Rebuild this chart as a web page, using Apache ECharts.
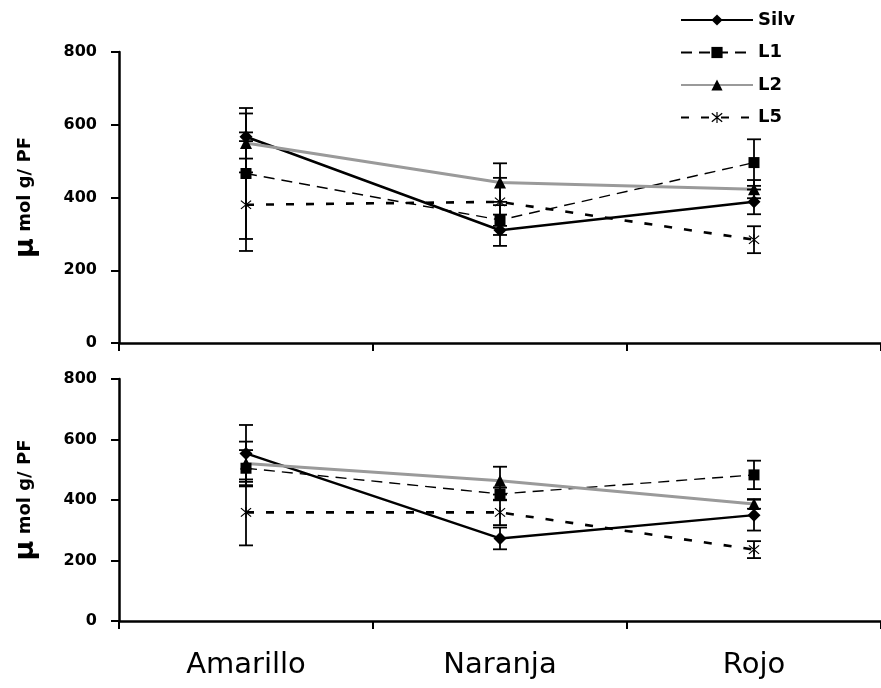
<!DOCTYPE html>
<html>
<head>
<meta charset="utf-8">
<script src="https://cdn.jsdelivr.net/npm/echarts@6/dist/echarts.min.js"></script>
<style>html,body{margin:0;padding:0;background:#fff}#c{width:881px;height:688px}</style>
</head>
<body>
<div id="c"></div>
<script>
// ---- data ----
var categories = ['Amarillo', 'Naranja', 'Rojo'];
var yTicks = [0, 200, 400, 600, 800];
var seriesNames = ['Silv', 'L1', 'L2', 'L5'];

// top panel: means and error (±)
var silvTop = [567, 310, 388];
var silvTopErr = [12, 43, 34];
var l1Top = [466, 338, 496];
var l1TopErr = [180, 41, 64];
var l2Top = [550, 441, 423];
var l2TopErr = [81, 53, 25];
var l5Top = [380, 388, 284];
var l5TopErr = [127, 66, 37];

// bottom panel
var silvBot = [554, 273, 350];
var silvBotErr = [94, 36, 51];
var l1Bot = [505, 420, 483];
var l1BotErr = [60, 21, 47];
var l2Bot = [521, 464, 387];
var l2BotErr = [72, 46, 16];
var l5Bot = [359, 359, 236];
var l5BotErr = [109, 42, 28];

// ---- styles ----
var FONT = 'DejaVu Sans';
var starPath = 'path://M9,0 L11,0 L11,20 L9,20 Z M0.7,3.1 L2.1,1.7 L19.3,16.9 L17.9,18.3 Z M17.9,1.7 L19.3,3.1 L2.1,18.3 L0.7,16.9 Z';
var styles = {
  'Silv': {color: '#000', lineStyle: {color: '#000', width: 2.5, type: 'solid'}, symbol: 'diamond', symbolSize: [13, 13]},
  'L1': {color: '#000', lineStyle: {color: '#000', width: 1.4, type: [11, 7]}, symbol: 'rect', symbolSize: 11},
  'L2': {color: '#000', lineStyle: {color: '#9a9a9a', width: 3, type: 'solid'}, symbol: 'triangle', symbolSize: 12},
  'L5': {color: '#000', lineStyle: {color: '#000', width: 2.6, type: [8, 12]}, symbol: starPath, symbolSize: 11}
};

var topData = {'Silv': [silvTop, silvTopErr], 'L1': [l1Top, l1TopErr], 'L2': [l2Top, l2TopErr], 'L5': [l5Top, l5TopErr]};
var botData = {'Silv': [silvBot, silvBotErr], 'L1': [l1Bot, l1BotErr], 'L2': [l2Bot, l2BotErr], 'L5': [l5Bot, l5BotErr]};

function errItem(params, api) {
  var c0 = api.coord([api.value(0), api.value(1)]);
  var c1 = api.coord([api.value(0), api.value(2)]);
  var x = c0[0], w = 7;
  var st = {stroke: '#000', lineWidth: 1.8};
  return {type: 'group', children: [
    {type: 'line', shape: {x1: x, y1: c0[1], x2: x, y2: c1[1]}, style: st},
    {type: 'line', shape: {x1: x - w, y1: c0[1], x2: x + w, y2: c0[1]}, style: st},
    {type: 'line', shape: {x1: x - w, y1: c1[1], x2: x + w, y2: c1[1]}, style: st}
  ]};
}

var series = [];
[[topData, 0], [botData, 1]].forEach(function (pair) {
  var d = pair[0], gi = pair[1];
  seriesNames.forEach(function (n) {
    var s = styles[n];
    series.push({
      name: n, type: 'line', xAxisIndex: gi, yAxisIndex: gi,
      data: d[n][0], symbol: s.symbol, symbolSize: s.symbolSize,
      itemStyle: {color: s.color}, lineStyle: s.lineStyle, z: 2, animation: false
    });
  });
  seriesNames.forEach(function (n) {
    var vals = d[n][0], errs = d[n][1];
    series.push({
      type: 'custom', xAxisIndex: gi, yAxisIndex: gi,
      renderItem: errItem, encode: {x: 0, y: [1, 2]},
      data: vals.map(function (v, i) { return [i, v - errs[i], v + errs[i]]; }),
      z: 3, animation: false, silent: true
    });
  });
});

function yAxis(gi) {
  return {
    type: 'value', gridIndex: gi, min: yTicks[0], max: yTicks[yTicks.length - 1], interval: 200,
    splitLine: {show: false},
    axisLine: {show: true, lineStyle: {color: '#000', width: 2.5}},
    axisTick: {show: true, length: 8, lineStyle: {color: '#000', width: 2}},
    axisLabel: {color: '#000', fontFamily: FONT, fontWeight: 'bold', fontSize: 16, margin: 22},
    name: '{u|μ}{t| mol g/ PF}', nameLocation: 'middle', nameGap: 80,
    nameTextStyle: {color: '#000', rich: {
      u: {fontFamily: FONT, fontWeight: 'bold', fontSize: 27, color: '#000'},
      t: {fontFamily: FONT, fontWeight: 'bold', fontSize: 18, color: '#000'}
    }}
  };
}
function xAxis(gi, showLabel) {
  return {
    type: 'category', gridIndex: gi, data: categories, boundaryGap: true,
    axisLine: {show: true, onZero: false, lineStyle: {color: '#000', width: 2.5}},
    axisTick: {show: true, length: 8, lineStyle: {color: '#000', width: 2}},
    axisLabel: {show: showLabel, color: '#000', fontFamily: FONT, fontSize: 29, margin: 30},
    splitLine: {show: false}
  };
}

var chart = echarts.init(document.getElementById('c'), null, {renderer: 'canvas'});
chart.setOption({
  backgroundColor: '#fff',
  animation: false,
  grid: [
    {left: 119, top: 52, height: 291, width: 768},
    {left: 119, top: 379, height: 242, width: 768}
  ],
  xAxis: [xAxis(0, false), xAxis(1, true)],
  yAxis: [yAxis(0), yAxis(1)],
  legend: {
    data: seriesNames, orient: 'vertical', left: 675, top: 6,
    itemWidth: 72, itemHeight: 14, itemGap: 14.5,
    textStyle: {color: '#000', fontFamily: FONT, fontWeight: 'bold', fontSize: 18}
  },
  series: series
});
</script>
</body>
</html>
